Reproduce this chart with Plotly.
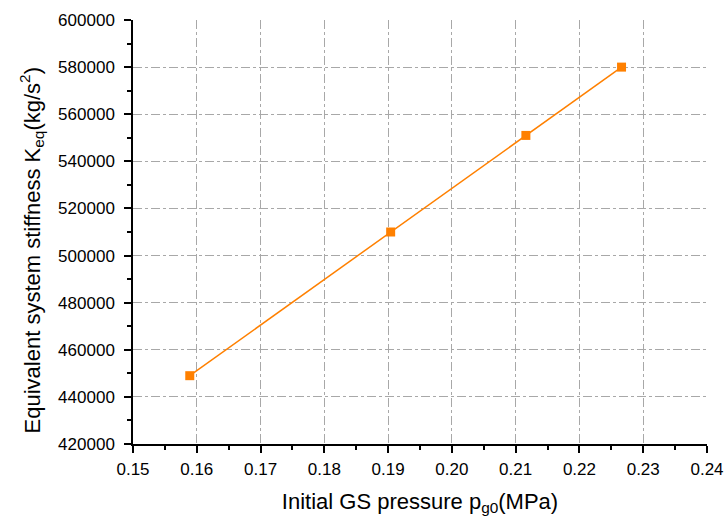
import plotly.graph_objects as go

pressure = [0.1589, 0.1904, 0.2116, 0.2266]
stiffness = [449000, 510000, 551000, 580000]

fig = go.Figure()
fig.add_trace(go.Scatter(
    x=pressure, y=stiffness, mode="lines+markers",
    line=dict(color="#FF8000", width=1.5),
    marker=dict(symbol="square", size=9, color="#FF8000"),
    showlegend=False,
))

font = "Liberation Sans, Arial, sans-serif"
fig.update_layout(
    width=726, height=517,
    margin=dict(l=133, r=19, t=20, b=73),
    paper_bgcolor="white", plot_bgcolor="white",
    font=dict(family=font, color="black"),
)
fig.update_xaxes(
    range=[0.15, 0.24], dtick=0.01, tickformat=".2f", automargin=False,
    showline=True, linecolor="black", linewidth=1.5,
    ticks="outside", ticklen=7, tickwidth=1.5, tickcolor="black",
    minor=dict(ticks="outside", ticklen=4, tickwidth=1.5, tickcolor="black", dtick=0.005, showgrid=False),
    showgrid=True, gridcolor="#a8a8a8", griddash="dashdot", gridwidth=1,
    zeroline=False, tickfont=dict(size=17, family=font), ticklabelstandoff=2,
    title=dict(text="Initial GS pressure p<sub>g0</sub>(MPa)", font=dict(size=22, family=font), standoff=15),
)
fig.update_yaxes(
    range=[420000, 600000], dtick=20000, tickformat="d", automargin=False,
    showline=True, linecolor="black", linewidth=1.5,
    ticks="outside", ticklen=7, tickwidth=1.5, tickcolor="black",
    minor=dict(ticks="outside", ticklen=4, tickwidth=1.5, tickcolor="black", dtick=10000, showgrid=False),
    showgrid=True, gridcolor="#a8a8a8", griddash="dashdot", gridwidth=1,
    zeroline=False, tickfont=dict(size=17, family=font), ticklabelstandoff=6,
)
fig.add_annotation(
    text="Equivalent system stiffness K<sub>eq</sub>(kg/s<sup>2</sup>)",
    xref="paper", yref="paper", x=-0.177, y=0.4575,
    xanchor="center", yanchor="middle", textangle=-90, showarrow=False,
    font=dict(size=22, family=font, color="black"),
)
fig.write_html("out.html")
